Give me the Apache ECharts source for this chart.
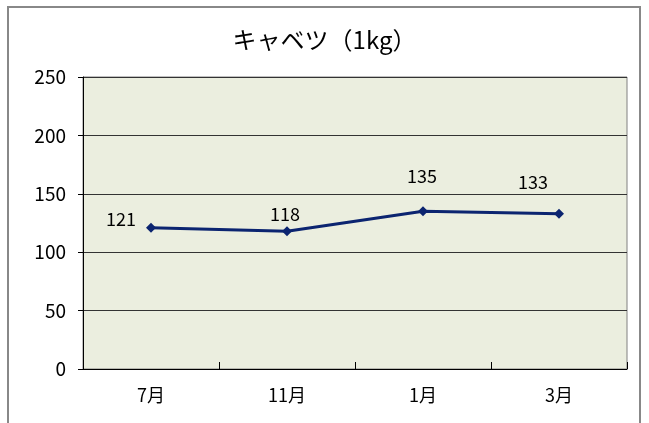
<!DOCTYPE html>
<html><head><meta charset="utf-8">
<script src="https://cdn.jsdelivr.net/npm/echarts@6/dist/echarts.min.js"></script>
<style>html,body{margin:0;padding:0;background:#fff}#c{width:649px;height:423px}</style>
</head><body><div id="c"></div>
<script>
const title = 'キャベツ（1kg）';
const categories = ['7月', '11月', '1月', '3月'];
const values = [121, 118, 135, 133];
const yTicks = [0, 50, 100, 150, 200, 250];

const labelOffsets = [[-30, -9], [-2, -17], [-1, -35], [-26, -31]];
const font = '"Noto Sans CJK JP", "Noto Sans", sans-serif';
const chart = echarts.init(document.getElementById('c'), null, {renderer: 'canvas'});
chart.setOption({
  animation: false,
  backgroundColor: '#fff',
  title: {text: title, left: 'center', top: 23, textStyle: {fontFamily: font, fontSize: 24, fontWeight: 'normal', color: '#000'}},
  graphic: [{type: 'rect', z: -10, shape: {x: 8, y: 7, width: 632, height: 440}, style: {fill: '#fff', stroke: '#888', lineWidth: 2}}],
  grid: {left: 83, right: 22, top: 77, bottom: 54, show: true, backgroundColor: '#EBEEDF', borderColor: '#808080', borderWidth: 1},
  xAxis: {
    type: 'category', data: categories, boundaryGap: true,
    axisLine: {lineStyle: {color: '#000', width: 1}},
    axisTick: {show: true, inside: true, length: 7, lineStyle: {color: '#000'}},
    axisLabel: {fontFamily: font, fontSize: 18, color: '#000', margin: 17}
  },
  yAxis: {
    type: 'value', min: yTicks[0], max: yTicks[yTicks.length - 1], interval: yTicks[1] - yTicks[0],
    axisLine: {show: true, lineStyle: {color: '#000', width: 1}},
    axisTick: {show: true, length: 5, lineStyle: {color: '#000'}},
    axisLabel: {fontFamily: font, fontSize: 19, color: '#000', margin: 17},
    splitLine: {lineStyle: {color: '#333', width: 1}}
  },
  series: [{
    type: 'line', data: values.map((v, i) => ({value: v, label: {offset: labelOffsets[i]}})),
    symbol: 'diamond', symbolSize: 10,
    lineStyle: {color: '#0B2470', width: 3},
    itemStyle: {color: '#0B2470'},
    label: {show: true, position: 'inside', fontFamily: font, fontSize: 18, color: '#000'}
  }]
});
</script></body></html>
